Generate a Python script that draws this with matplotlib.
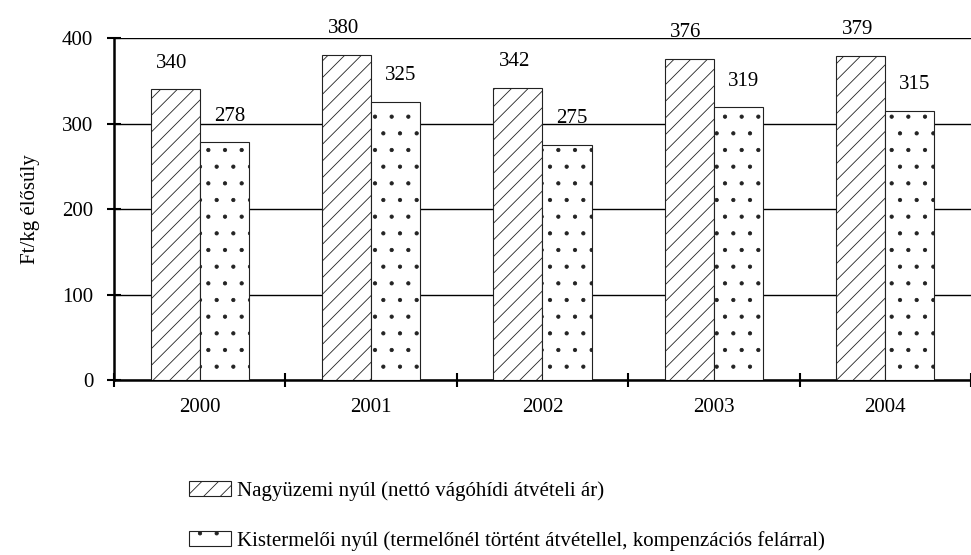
import numpy as np
import matplotlib
matplotlib.use("Agg")
import matplotlib.pyplot as plt
from matplotlib.patches import Patch

plt.rcParams['font.family'] = ['Liberation Serif', 'DejaVu Serif']
plt.rcParams['hatch.linewidth'] = 0.6

# Data
years = ["2000", "2001", "2002", "2003", "2004"]
nagyuzemi = [340, 380, 342, 376, 379]
kistermeloi = [278, 325, 275, 319, 315]
label_nagy = "Nagyüzemi nyúl (nettó vágóhídi átvételi ár)"
label_kis = "Kistermelői nyúl (termelőnél történt átvétellel, kompenzációs felárral)"

fs = 15

fig = plt.figure(figsize=(9.71, 5.55), dpi=100)
ax = fig.add_axes([0.1174, 0.3153, 0.8826, 0.6162])

x = np.arange(len(years))
w = 0.286
b1 = ax.bar(x - w / 2, nagyuzemi, w, facecolor="white", edgecolor="#222222",
            hatch="//", linewidth=0.8, zorder=3)
b2 = ax.bar(x + w / 2, kistermeloi, w, facecolor="white", edgecolor="#222222",
            hatch=".", linewidth=0.8, zorder=3)

for rect, v in zip(b1, nagyuzemi):
    ax.annotate(str(v), (rect.get_x() + rect.get_width() / 2 - 0.02, v),
                xytext=(0, 12), textcoords="offset points", ha="center",
                va="bottom", fontsize=fs)
for rect, v in zip(b2, kistermeloi):
    ax.annotate(str(v), (rect.get_x() + rect.get_width() / 2 + 0.03, v),
                xytext=(0, 12), textcoords="offset points", ha="center",
                va="bottom", fontsize=fs)

ax.set_xlim(-0.5, 4.5)
ax.set_ylim(0, 400)
ax.set_yticks([0, 100, 200, 300, 400])
ax.yaxis.grid(True, color="black", linewidth=1)
ax.set_axisbelow(True)

ax.set_xticks(np.arange(-0.5, 5, 1))
ax.set_xticklabels([])
ax.set_xticks(x, minor=True)
ax.set_xticklabels(years, minor=True)
ax.tick_params(axis="x", which="minor", length=0, pad=13, labelsize=fs)
ax.tick_params(axis="x", which="major", direction="inout", length=10, width=1.5)
ax.tick_params(axis="y", direction="inout", length=10, width=1.5, labelsize=fs, pad=10)

for s in ["top", "right"]:
    ax.spines[s].set_visible(False)
ax.spines["left"].set_linewidth(1.8)
ax.spines["bottom"].set_linewidth(1.8)

ax.set_ylabel("Ft/kg élősúly", fontsize=fs, labelpad=16)

handles = [Patch(facecolor="white", edgecolor="#222222", hatch="//", linewidth=0.8),
           Patch(facecolor="white", edgecolor="#222222", hatch=".", linewidth=0.8)]
fig.legend(handles, [label_nagy, label_kis], loc="upper left",
           bbox_to_anchor=(0.195, 0.133), frameon=False, fontsize=fs,
           labelspacing=1.45, handlelength=2.0, handleheight=0.7,
           handletextpad=0.3, borderpad=0, borderaxespad=0)

fig.savefig("out.png", dpi=100)
